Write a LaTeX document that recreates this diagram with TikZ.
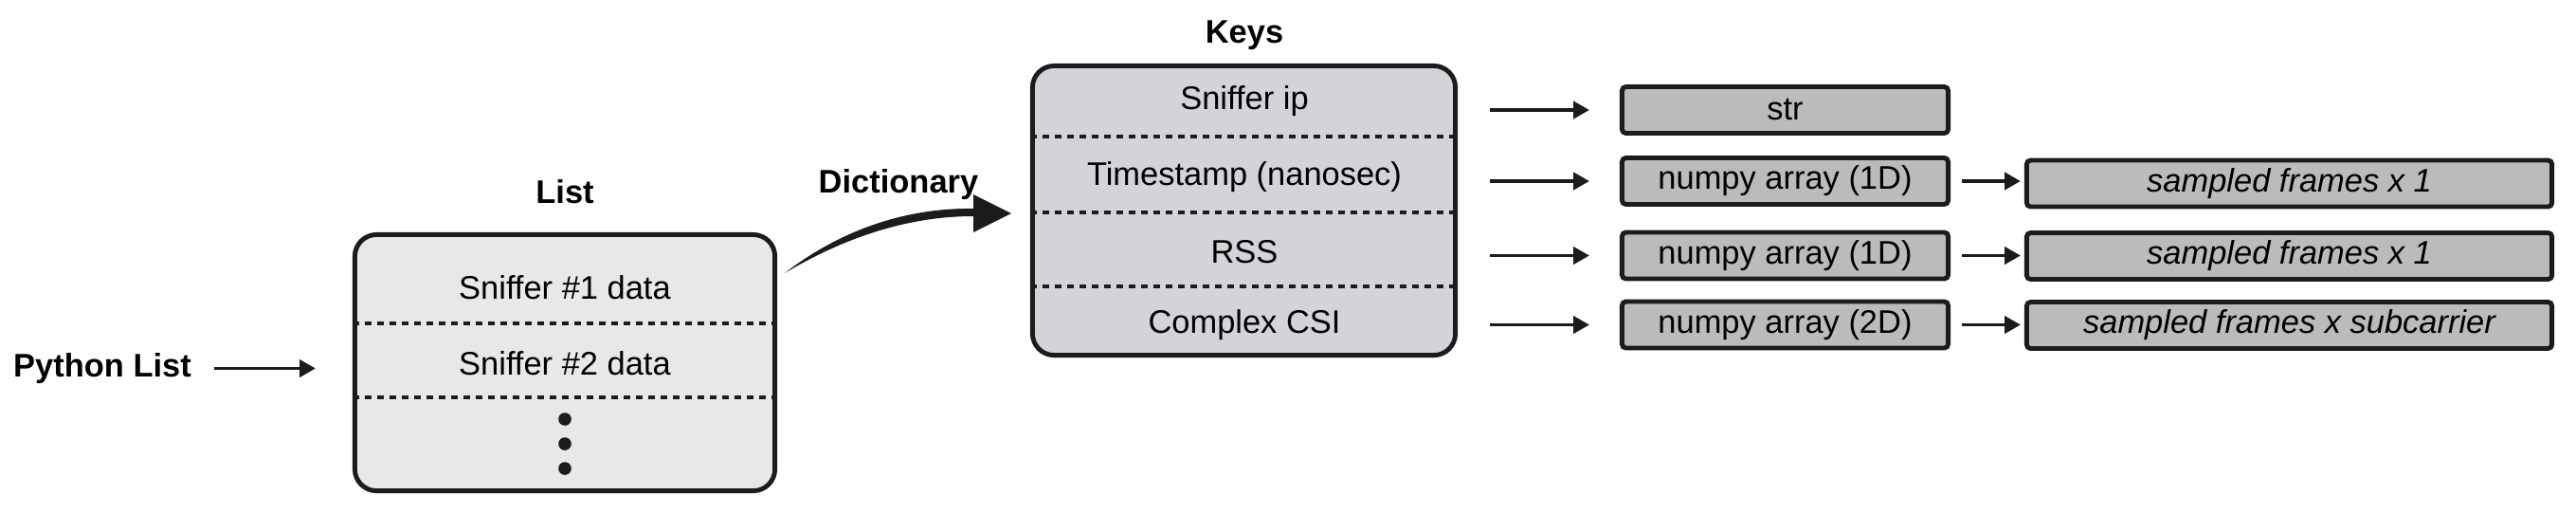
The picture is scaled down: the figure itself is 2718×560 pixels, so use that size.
\documentclass[tikz,border=0pt]{standalone}
\usepackage{fontspec}
\setmainfont{Liberation Sans}
\usetikzlibrary{arrows.meta}
\definecolor{lc}{HTML}{1C1C1C}
\definecolor{listfill}{HTML}{E8E8E8}
\definecolor{keyfill}{HTML}{D3D4D8}
\definecolor{typefill}{HTML}{BBBBBB}
\tikzset{
  txt/.style={font=\fontsize{9.8}{12}\selectfont, text=black, inner sep=0pt, yshift=-1pt},
  ttl/.style={font=\fontsize{9.8}{12}\selectfont\bfseries, text=black, inner sep=0pt, yshift=-1pt},
  bigbox/.style={draw=lc, line width=1.4pt, rounded corners=6.5pt, inner sep=0pt},
  typebox/.style={draw=lc, fill=typefill, line width=1.4pt, rounded corners=1.2pt,
    minimum width=3.44cm, minimum height=0.49cm, inner sep=0pt,
    font=\fontsize{9.8}{12}\selectfont},
  shapebox/.style={draw=lc, fill=typefill, line width=1.4pt, rounded corners=1.2pt,
    minimum width=5.54cm, minimum height=0.49cm, inner sep=0pt,
    font=\fontsize{9.8}{12}\selectfont\itshape},
  dashline/.style={draw=lc, line width=0.95pt, dash pattern=on 2pt off 1.7pt},
  arr/.style={draw=lc, line width=0.95pt, -{Triangle[length=4.8pt,width=5.2pt]}},
}
\begin{document}
\begin{tikzpicture}[x=0.01cm, y=-0.01cm]
\useasboundingbox (0,0) rectangle (2718,560);

% ---- List box ----
\node[ttl] (pylist) at (108,385) {Python List};
\node[bigbox, fill=listfill, minimum width=4.43cm, minimum height=2.70cm] (list) at (596,382.5) {};
\node[ttl] (listlbl) at (596,199) {List};
\node[txt] (s1) at (596,300) {Sniffer \#1 data};
\node[txt] (s2) at (596,380) {Sniffer \#2 data};
\coordinate (ld1) at (0,341);
\coordinate (ld2) at (0,419);
\draw[dashline] (list.west |- ld1) -- (list.east |- ld1);
\draw[dashline] (list.west |- ld2) -- (list.east |- ld2);
\fill[lc] (596,442) circle (0.068cm);
\fill[lc] (596,468) circle (0.068cm);
\fill[lc] (596,494) circle (0.068cm);
\draw[arr, shorten <=0.23cm, shorten >=0.39cm] (pylist.east) -- (list.west |- pylist.east);

% ---- Keys box ----
\node[ttl] (keyslbl) at (1313,34) {Keys};
\node[bigbox, fill=keyfill, minimum width=4.46cm, minimum height=3.05cm] (keys) at (1312.5,222) {};
\node[txt] (k1) at (1313,103) {Sniffer ip};
\node[txt] (k2) at (1313,183) {Timestamp (nanosec)};
\node[txt] (k3) at (1313,262) {RSS};
\node[txt] (k4) at (1313,339) {Complex CSI};
\coordinate (kd1) at (0,144);
\coordinate (kd2) at (0,224);
\coordinate (kd3) at (0,302);
\draw[dashline] (keys.west |- kd1) -- (keys.east |- kd1);
\draw[dashline] (keys.west |- kd2) -- (keys.east |- kd2);
\draw[dashline] (keys.west |- kd3) -- (keys.east |- kd3);

% ---- Dictionary arrow ----
\node[ttl] (dictlbl) at (948,191) {Dictionary};
\coordinate (dS) at (828,288);
\coordinate (dT) at (1067,225);
\fill[lc] (dS) .. controls (890,240) and (960,219) .. (1027,220)
  -- (1027,205) -- (dT) -- (1027,245) -- (1027,228)
  .. controls (962,228) and (895,248) .. (dS) -- cycle;

% ---- Type boxes ----
\node[typebox] (t1) at (1883.5,116) {str};
\node[typebox] (t2) at (1883.5,191) {numpy array (1D)};
\node[typebox] (t3) at (1883.5,269.5) {numpy array (1D)};
\node[typebox] (t4) at (1883.5,342.5) {numpy array (2D)};

\node[shapebox] (f2) at (2415.5,193.5) {sampled frames x 1};
\node[shapebox] (f3) at (2415.5,270) {sampled frames x 1};
\node[shapebox] (f4) at (2415.5,343) {sampled frames x subcarrier};

\foreach \t in {t1,t2,t3,t4}
  \draw[arr, shorten <=0.34cm, shorten >=0.32cm] (keys.east |- \t.west) -- (\t.west);
\foreach \t/\f in {t2/f2,t3/f3,t4/f4}
  \draw[arr, shorten <=0.12cm, shorten >=0.04cm] (\t.east) -- (\f.west |- \t.east);
\end{tikzpicture}
\end{document}
